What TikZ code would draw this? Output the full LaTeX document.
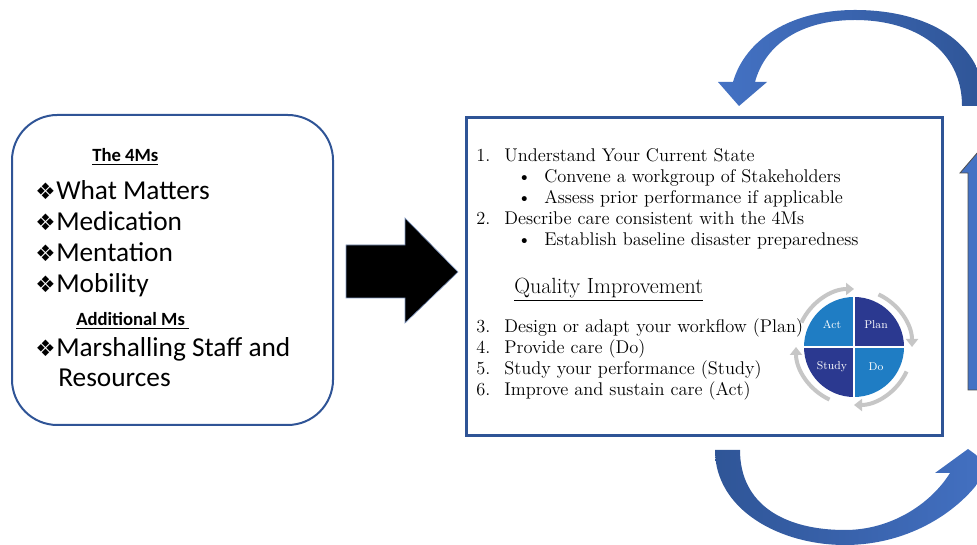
\documentclass[tikz,border=0pt]{standalone}
\usepackage{fontspec}
\newfontfamily\calibri{Carlito}
\newfontfamily\dingfont{DejaVu Sans}
\usetikzlibrary{arrows.meta}
\definecolor{boxblue}{HTML}{2F5496}
\definecolor{arrowblue}{HTML}{4472C4}
\definecolor{arrowdark}{HTML}{2F5597}
\definecolor{pdsalight}{HTML}{1F7DC4}
\definecolor{pdsadark}{HTML}{2B3990}
\newcommand{\mbul}{{\dingfont\fontsize{17}{20}\selectfont ❖}\hspace{0.5pt}}
\begin{document}
\begin{tikzpicture}[x=0.75pt,y=0.75pt]
\tikzset{mbox/.style = {draw=boxblue, line width=1.5pt, rounded corners=34pt, inner sep=0pt}}
\tikzset{stepsbox/.style = {draw=boxblue, line width=2.25pt, inner sep=0pt}}
\tikzset{mhead/.style = {anchor=base west, inner sep=0pt, font=\calibri\bfseries\fontsize{14}{16}\selectfont}}
\tikzset{mitem/.style = {anchor=base west, inner sep=0pt, font=\calibri\fontsize{20.5}{24}\selectfont}}
\tikzset{qitem/.style = {anchor=base west, inner sep=0pt, font=\fontsize{13.8}{16}\selectfont}}
\tikzset{pdsalabel/.style = {text=white, inner sep=0pt, font=\fontsize{8.5}{10}\selectfont}}
\tikzset{ring/.style = {draw=gray!45, line width=3pt, -{Triangle[width=9pt,length=6pt]}}}
\useasboundingbox (0,0) rectangle (977,545);
% left box with the 4Ms
\node[mbox, minimum width=240.75pt, minimum height=232.5pt](msbox) at (172.5,275) {};
\node[mhead](m0) at (92,383) {\underline{The 4Ms}};
\node[mitem](m1) at (35,345) {\mbul What Matters};
\node[mitem](m2) at (35,314) {\mbul Medication};
\node[mitem](m3) at (35,283) {\mbul Mentation};
\node[mitem](m4) at (35,252) {\mbul Mobility};
\node[mhead](m5) at (76,219) {\underline{Additional Ms\ }};
\node[mitem](m6) at (35,188) {\mbul Marshalling Staff and};
\node[mitem](m7) at (58,158) {Resources};
% black arrow
\fill[black, draw=boxblue!60, line width=0.5pt] (346,247) -- (346,300) -- (405,300) -- (405,327)
  -- (458,273) -- (405,222) -- (405,247) -- cycle;
% right box with the steps
\node[stepsbox, minimum width=357pt, minimum height=238.5pt](qibox) at (704,268) {};
\node[qitem](n1) at (476,383) {1.};
\node[qitem](s1) at (504,383) {Understand Your Current State};
\node[qitem](b1) at (517,362) {\textbullet};
\node[qitem](t1) at (544,362) {Convene a workgroup of Stakeholders};
\node[qitem](b2) at (517,341) {\textbullet};
\node[qitem](t2) at (544,341) {Assess prior performance if applicable};
\node[qitem](n2) at (476,320) {2.};
\node[qitem](s2) at (504,320) {Describe care consistent with the 4Ms};
\node[qitem](b3) at (517,299) {\textbullet};
\node[qitem](t3) at (544,299) {Establish baseline disaster preparedness};
\node[qitem, font=\fontsize{16.5}{19}\selectfont](qi) at (514,251) {\underline{Quality Improvement}};
\node[qitem](n3) at (476,212) {3.};
\node[qitem](s3) at (504,212) {Design or adapt your workflow (Plan)};
\node[qitem](n4) at (476,191) {4.};
\node[qitem](s4) at (504,191) {Provide care (Do)};
\node[qitem](n5) at (476,170) {5.};
\node[qitem](s5) at (504,170) {Study your performance (Study)};
\node[qitem](n6) at (476,149) {6.};
\node[qitem](s6) at (504,149) {Improve and sustain care (Act)};
% PDSA wheel
\coordinate (pdsa) at (854,198);
\fill[pdsalight] (pdsa) -- ++(90:50) arc (90:180:50) -- cycle;
\fill[pdsadark] (pdsa) -- ++(0:50) arc (0:90:50) -- cycle;
\fill[pdsadark] (pdsa) -- ++(180:50) arc (180:270:50) -- cycle;
\fill[pdsalight] (pdsa) -- ++(270:50) arc (270:360:50) -- cycle;
\draw[white, line width=2pt] ([xshift=-52]pdsa) -- ([xshift=52]pdsa);
\draw[white, line width=2pt] ([yshift=-52]pdsa) -- ([yshift=52]pdsa);
\foreach \a in {0,90,180,270}
  \draw[ring] (pdsa) ++(\a+155:58) arc (\a+155:\a+90:58);
\node[pdsalabel](act) at (832,220) {Act};
\node[pdsalabel](plan) at (876,220) {Plan};
\node[pdsalabel](study) at (832,178) {Study};
\node[pdsalabel](do) at (876,178) {Do};
% blue arrows round the steps
\shade[left color=arrowblue, right color=arrowdark] (985,439) .. controls (985,505) and (925,535) .. (855,535)
  .. controls (790,535) and (745,505) .. (733,463) -- (718,463) -- (739,439) -- (767,463) -- (755,463)
  .. controls (765,500) and (800,525) .. (855,525) .. controls (915,525) and (962,495) .. (962,439) -- cycle;
\shade[left color=arrowdark, right color=arrowblue] (715,95) .. controls (715,35) and (780,0) .. (845,0)
  .. controls (910,0) and (962,35) .. (985,72) -- (1001,72) -- (968,96) -- (935,72) -- (950,72)
  .. controls (930,40) and (890,15) .. (845,15) .. controls (785,15) and (740,40) .. (740,95) -- cycle;
\fill[arrowblue, draw=black!70, line width=0.6pt] (968,155) -- (968,372) -- (960,372) -- (984,400)
  -- (1008,372) -- (1000,372) -- (1000,155) -- cycle;
\end{tikzpicture}
\end{document}
